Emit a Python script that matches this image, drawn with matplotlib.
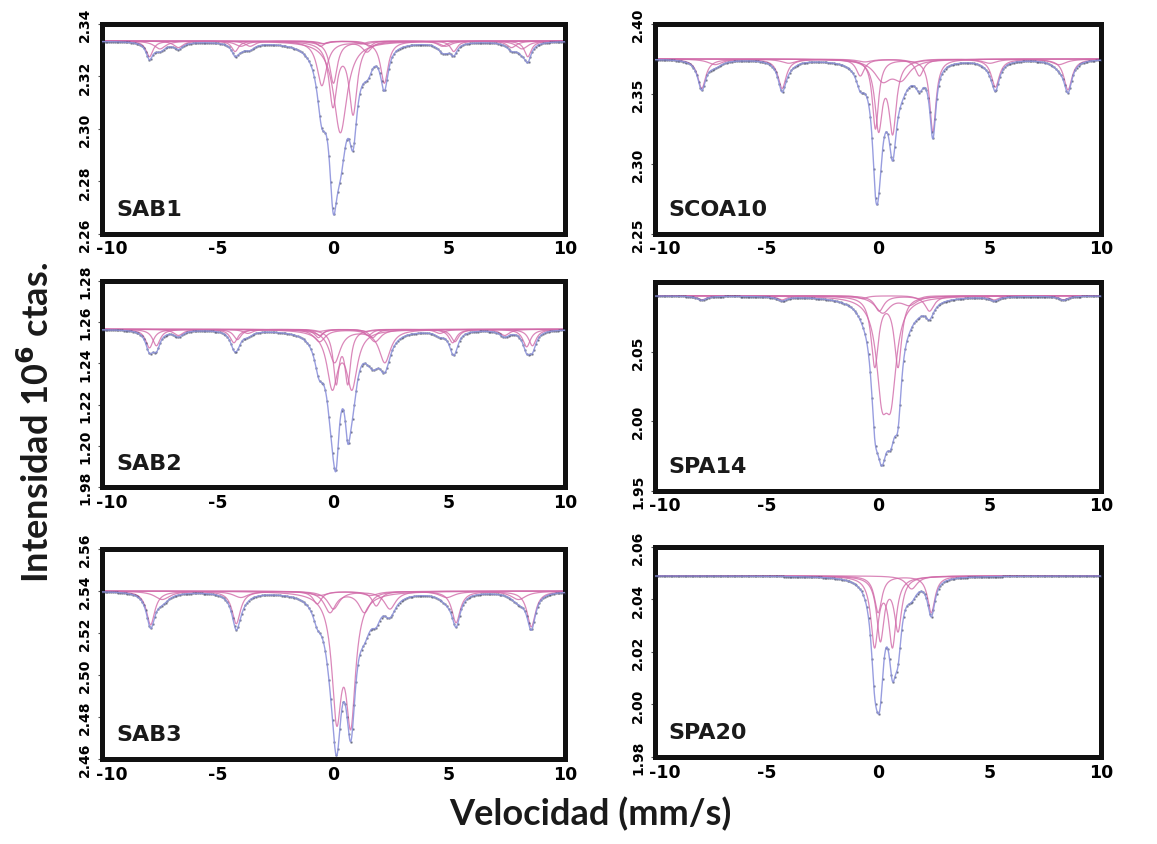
import numpy as np
import matplotlib
matplotlib.use("Agg")
import matplotlib.pyplot as plt
import matplotlib.transforms as mtransforms
from matplotlib.ticker import FixedLocator, AutoMinorLocator

# --- Mossbauer fits: baseline counts (10^6) and subspectra -------------------
# each subspectrum: (line positions mm/s, line depths 10^6 counts, half width mm/s)

SAB1_BASE = 2.3335
SAB1_SUB = [
    ([-7.95, -4.25, -0.55, 1.55, 5.2, 8.4], [0.006, 0.004, 0.002, 0.002, 0.004, 0.006], 0.18),
    ([-7.5, -4.0, -0.5, 1.4, 4.85, 8.15], [0.003, 0.002, 0.001, 0.001, 0.002, 0.003], 0.3),
    ([-6.7, -3.6, -0.4, 1.2, 4.7, 7.7], [0.0025, 0.002, 0.001, 0.001, 0.002, 0.0025], 0.25),
    ([-0.02, 0.85], [0.024, 0.027], 0.21),
    ([0.3], [0.035], 0.35),
    ([-0.5, 1.45], [0.017, 0.004], 0.25),
    ([0.0, 2.2], [0.016, 0.016], 0.2),
]
SAB1_TICKS = [2.26, 2.28, 2.30, 2.32, 2.34]
SAB1_LABELS = ["2.26", "2.28", "2.30", "2.32", "2.34"]

SCOA10_BASE = 2.375
SCOA10_SUB = [
    ([-7.9, -4.3, -0.8, 1.85, 5.25, 8.5], [0.021, 0.021, 0.012, 0.012, 0.020, 0.022], 0.22),
    ([-7.3, -4.0, -0.6, 1.6, 5.0, 8.1], [0.004, 0.003, 0.002, 0.002, 0.003, 0.004], 0.4),
    ([0.02, 0.65], [0.048, 0.05], 0.2),
    ([-0.12, 2.45], [0.05, 0.052], 0.17),
    ([0.2, 1.04], [0.014, 0.013], 0.45),
]
SCOA10_TICKS = [2.25, 2.30, 2.35, 2.40]
SCOA10_LABELS = ["2.25", "2.30", "2.35", "2.40"]

SAB2_BASE = 1.2565
SAB2_SUB = [
    ([-7.95, -4.3, -0.65, 1.7, 5.15, 8.35], [0.009, 0.0065, 0.004, 0.004, 0.0065, 0.0085], 0.2),
    ([-7.65, -4.15, -0.6, 1.5, 5.25, 8.6], [0.008, 0.005, 0.003, 0.003, 0.006, 0.008], 0.2),
    ([-6.7, -3.7, -0.6, 1.4, 4.6, 7.4], [0.003, 0.002, 0.001, 0.001, 0.002, 0.003], 0.25),
    ([-0.05, 0.8], [0.027, 0.027], 0.28),
    ([0.12, 0.62], [0.025, 0.025], 0.15),
    ([0.05, 2.22], [0.016, 0.016], 0.3),
    ([-0.6, 1.8], [0.006, 0.006], 0.3),
]
SAB2_TICKS = [1.18, 1.20, 1.22, 1.24, 1.26, 1.28]
SAB2_LABELS = ["1.98", "1.20", "1.22", "1.24", "1.26", "1.28"]

SPA14_BASE = 2.0902
SPA14_SUB = [
    ([-7.9, -4.3, -0.7, 1.8, 5.2, 8.3], [0.003, 0.003, 0.002, 0.002, 0.003, 0.003], 0.25),
    ([0.17, 0.57], [0.061, 0.061], 0.3),
    ([-0.15, 0.89], [0.05, 0.05], 0.2),
    ([0.2, 1.4], [0.012, 0.006], 0.4),
    ([0.05, 2.3], [0.011, 0.011], 0.25),
]
SPA14_TICKS = [1.95, 2.00, 2.05]
SPA14_LABELS = ["1.95", "2.00", "2.05"]

SAB3_BASE = 2.5400
SAB3_SUB = [
    ([-7.9, -4.2, -0.7, 1.85, 5.3, 8.55], [0.016, 0.0155, 0.006, 0.007, 0.015, 0.017], 0.22),
    ([-7.4, -4.0, -0.6, 1.6, 4.9, 8.0], [0.004, 0.003, 0.002, 0.002, 0.003, 0.004], 0.4),
    ([0.14, 0.75], [0.056, 0.058], 0.25),
    ([-0.15, 1.34], [0.01, 0.01], 0.3),
    ([0.0, 2.44], [0.0085, 0.0085], 0.3),
]
SAB3_TICKS = [2.46, 2.48, 2.50, 2.52, 2.54, 2.56]
SAB3_LABELS = ["2.46", "2.48", "2.50", "2.52", "2.54", "2.56"]

SPA20_BASE = 2.0490
SPA20_SUB = [
    ([-0.16, 0.64], [0.026, 0.026], 0.2),
    ([0.1, 0.89], [0.024, 0.02], 0.2),
    ([0.0, 2.38], [0.014, 0.014], 0.2),
    ([1.5], [0.005], 0.3),
]
SPA20_TICKS = [1.98, 2.00, 2.02, 2.04, 2.06]
SPA20_LABELS = ["1.98", "2.00", "2.02", "2.04", "2.06"]

X_TICKS = [-10, -5, 0, 5, 10]

# name, baseline, subspectra, ticks, labels, [left, bottom, width, height]
PANELS = [
    ("SAB1", SAB1_BASE, SAB1_SUB, SAB1_TICKS, SAB1_LABELS, [0.0882, 0.722, 0.400, 0.2485]),
    ("SCOA10", SCOA10_BASE, SCOA10_SUB, SCOA10_TICKS, SCOA10_LABELS, [0.566, 0.722, 0.386, 0.2485]),
    ("SAB2", SAB2_BASE, SAB2_SUB, SAB2_TICKS, SAB2_LABELS, [0.0882, 0.4225, 0.400, 0.244]),
    ("SPA14", SPA14_BASE, SPA14_SUB, SPA14_TICKS, SPA14_LABELS, [0.566, 0.418, 0.386, 0.247]),
    ("SAB3", SAB3_BASE, SAB3_SUB, SAB3_TICKS, SAB3_LABELS, [0.0882, 0.1006, 0.400, 0.2485]),
    ("SPA20", SPA20_BASE, SPA20_SUB, SPA20_TICKS, SPA20_LABELS, [0.566, 0.103, 0.386, 0.2485]),
]
Y_LIMITS = {
    "SAB1": (2.26, 2.34), "SCOA10": (2.25, 2.40), "SAB2": (1.18, 1.28),
    "SPA14": (1.95, 2.10), "SAB3": (2.46, 2.56), "SPA20": (1.98, 2.06),
}

PINK = "#d16aa9"
BLUE = "#8d93dc"
DOTS = "#2a2f4a"


def lorentz(v, positions, depths, hwhm):
    out = np.zeros_like(v)
    for p, d in zip(positions, depths):
        out += d / (1.0 + ((v - p) / hwhm) ** 2)
    return out


fig = plt.figure(figsize=(11.57, 8.45), dpi=100)
v = np.linspace(-10, 10, 1200)
channels = np.linspace(-10, 10, 256)

for name, base, subs, ticks, labels, rect in PANELS:
    ax = fig.add_axes(rect)
    total = np.zeros_like(v)
    total_ch = np.zeros_like(channels)
    for pos, dep, hw in subs:
        comp = lorentz(v, pos, dep, hw)
        total += comp
        total_ch += lorentz(channels, pos, dep, hw)
        ax.plot(v, base - comp, color=PINK, lw=0.9, alpha=0.8, zorder=2)
    ax.plot(channels, base - total_ch, ls="none", marker="o", ms=0.9,
            color=DOTS, alpha=0.45, zorder=3)
    ax.plot(v, base - total, color=BLUE, lw=1.0, alpha=0.9, zorder=4)

    ax.set_xlim(-10, 10)
    ax.set_ylim(*Y_LIMITS[name])
    ax.set_xticks(X_TICKS)
    ax.set_xticklabels([str(t) for t in X_TICKS], fontsize=12.5, fontweight="bold")
    ax.yaxis.set_major_locator(FixedLocator(ticks))
    ax.set_yticklabels(labels, fontsize=10, fontweight="bold", rotation=90, va="center")
    ax.yaxis.set_minor_locator(AutoMinorLocator(4))
    ax.tick_params(axis="x", length=0, pad=4)
    ax.tick_params(axis="y", which="major", direction="out", length=3, width=0.8, pad=4, color="#555555")
    ax.tick_params(axis="y", which="minor", direction="out", length=1.5, width=0.6, color="#777777")
    # nudge the "-10" label right so it clears the lowest y label
    first = ax.get_xticklabels()[0]
    first.set_transform(first.get_transform() +
                        mtransforms.ScaledTranslation(7 / 72, 0, fig.dpi_scale_trans))
    for spine in ax.spines.values():
        spine.set_linewidth(3.6)
        spine.set_color("#111111")
    ax.text(0.03, 0.07, name, transform=ax.transAxes, fontsize=16,
            fontweight="bold", color="#1a1a1a", ha="left", va="bottom")

fig.text(0.51, 0.037, "Velocidad (mm/s)", ha="center", va="center",
         fontsize=26, fontweight="bold", family="Lato", color="#1a1a1a")
fig.text(0.032, 0.5, r"Intensidad 10$^{\mathbf{6}}$ ctas.", ha="center", va="center",
         rotation=90, fontsize=26, fontweight="bold", family="Lato", color="#1a1a1a")

fig.savefig("out.png", dpi=100, facecolor="white")
